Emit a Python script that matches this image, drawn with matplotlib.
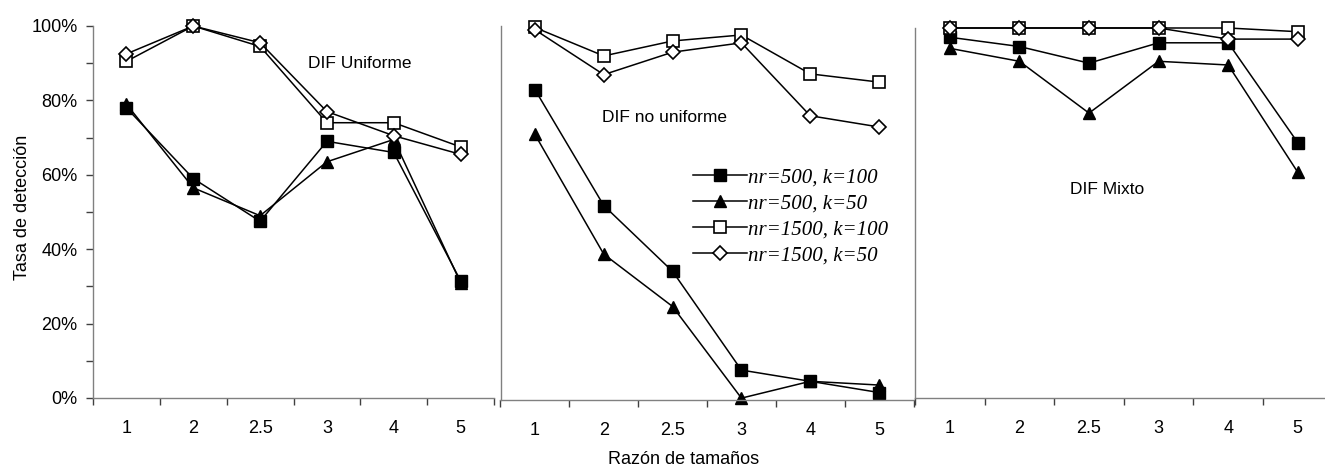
import matplotlib
matplotlib.use("Agg")
import matplotlib.pyplot as plt
from matplotlib.ticker import FixedLocator, FuncFormatter

# Size ratios (categorical x axis)
ratios = ["1", "2", "2.5", "3", "4", "5"]

series_labels = ["nr=500, k=100", "nr=500, k=50", "nr=1500, k=100", "nr=1500, k=50"]

# Detection rate (%) – uniform DIF
uni_500_100 = [78, 59, 47.5, 69, 66, 31.5]
uni_500_50 = [79, 56.5, 49, 63.5, 69.5, 31]
uni_1500_100 = [90.5, 100, 94.5, 74, 74, 67.5]
uni_1500_50 = [92.5, 100, 95.5, 77, 70.5, 65.5]

# Detection rate (%) – non-uniform DIF
non_500_100 = [83, 52, 34.4, 8, 5, 2]
non_500_50 = [71, 39, 25, 0.5, 5, 4]
non_1500_100 = [99.6, 92, 96, 97.6, 87.2, 85]
non_1500_50 = [99, 87, 93, 95.5, 76, 73]

# Detection rate (%) – mixed DIF
mix_500_100 = [97.5, 95, 90.5, 96, 96, 69]
mix_500_50 = [94.5, 91, 77, 91, 90, 61]
mix_1500_100 = [100, 100, 100, 100, 100, 99]
mix_1500_50 = [100, 100, 100, 100, 97, 97]

panel_titles = ["DIF Uniforme", "DIF no uniforme", "DIF Mixto"]
y_label = "Tasa de detección"
x_label = "Razón de tamaños"

W, H = 1325, 468
fig = plt.figure(figsize=(W / 100, H / 100), dpi=100)
plt.rcParams["font.family"] = ["Liberation Sans", "DejaVu Sans"]


def px_axes(left, right, top, bottom):
    return fig.add_axes([left / W, 1 - bottom / H, (right - left) / W, (bottom - top) / H])


ax1 = px_axes(93, 494, 26, 398)
ax2 = px_axes(500.5, 913.5, 26, 400)
ax3 = px_axes(915, 1332.6, 28, 398)

styles = [
    dict(marker="s", markersize=8.3, markerfacecolor="black", markeredgecolor="black"),
    dict(marker="^", markersize=8.8, markerfacecolor="black", markeredgecolor="black"),
    dict(marker="s", markersize=8.0, markerfacecolor="white", markeredgecolor="black", markeredgewidth=1.2),
    dict(marker="D", markersize=7.0, markerfacecolor="white", markeredgecolor="black", markeredgewidth=1.2),
]

panels = [
    (ax1, [uni_500_100, uni_500_50, uni_1500_100, uni_1500_50]),
    (ax2, [non_500_100, non_500_50, non_1500_100, non_1500_50]),
    (ax3, [mix_500_100, mix_500_50, mix_1500_100, mix_1500_50]),
]

xpos = list(range(len(ratios)))
axis_grey = "#808080"

for i, (ax, data) in enumerate(panels):
    for vals, st, lab in zip(data, styles, series_labels):
        ax.plot(xpos, vals, color="black", linewidth=1.1, label=lab, clip_on=False, **st)
    ax.set_xlim(-0.5, len(ratios) - 0.5)
    ax.set_ylim(0, 100)
    for s in ["top", "right"]:
        ax.spines[s].set_visible(False)
    for s in ["left", "bottom"]:
        ax.spines[s].set_color(axis_grey)
        ax.spines[s].set_linewidth(1.0)
    # category labels at centres, tick marks at boundaries
    ax.xaxis.set_major_locator(FixedLocator(xpos))
    ax.set_xticklabels(ratios)
    ax.xaxis.set_minor_locator(FixedLocator([p - 0.5 for p in xpos] + [len(ratios) - 0.5]))
    ax.tick_params(axis="x", which="major", length=0, pad=16, labelsize=13)
    ax.tick_params(axis="x", which="minor", length=5, width=1, color="#404040", direction="out")
    if i == 0:
        ax.yaxis.set_major_locator(FixedLocator([0, 20, 40, 60, 80, 100]))
        ax.yaxis.set_minor_locator(FixedLocator([10, 30, 50, 70, 90]))
        ax.yaxis.set_major_formatter(FuncFormatter(lambda v, p: f"{int(v)}%"))
        ax.tick_params(axis="y", which="both", length=5, width=1, color="#404040",
                       direction="out", labelsize=13, pad=6)
    else:
        ax.tick_params(axis="y", which="both", left=False, labelleft=False)
    ax.set_facecolor("none")

title_pos = [(360, 63), (664, 117), (1107, 190)]
for t, (x, y) in zip(panel_titles, title_pos):
    fig.text(x / W, 1 - y / H, t, ha="center", va="center", fontsize=12.5)

fig.text(23 / W, 1 - 207 / H, y_label, rotation=90, ha="center", va="center", fontsize=13)
fig.text(684 / W, 1 - 460 / H, x_label, ha="center", va="center", fontsize=13)

leg = ax2.legend(loc="upper left", bbox_to_anchor=(693 / W, 1 - 168 / H),
                 bbox_transform=fig.transFigure, frameon=False, borderpad=0,
                 borderaxespad=0, handlelength=2.6, handletextpad=0.05,
                 labelspacing=0.3,
                 prop=dict(family="Liberation Serif", style="italic", size=15))

fig.savefig("out.png", dpi=100)
